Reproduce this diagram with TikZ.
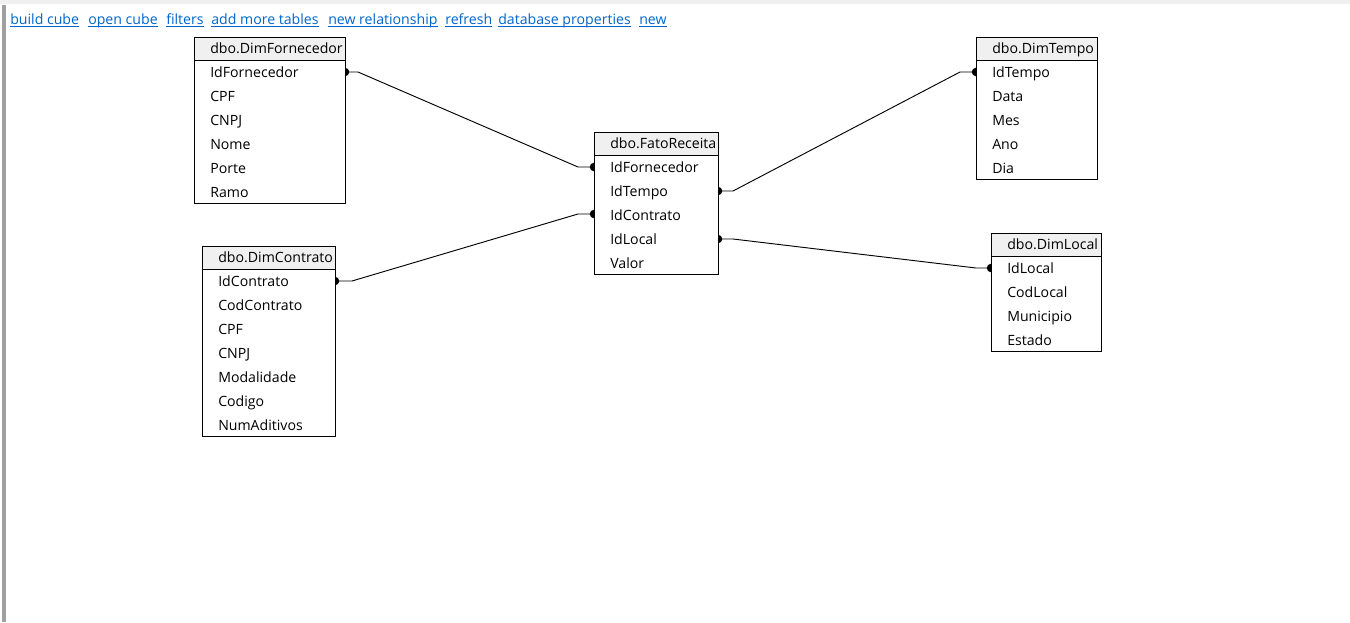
\documentclass[tikz,border=0pt]{standalone}
\usepackage{fontspec}
\setmainfont{Open Sans}
\usetikzlibrary{calc}
\definecolor{lnkblue}{RGB}{0,102,204}
\definecolor{hdrgray}{RGB}{240,240,240}
\definecolor{bargray}{RGB}{160,160,160}
\newcommand\dbtable[6]{%
  \node[tblbox,minimum width=#4*0.75pt,minimum height=#5*0.75pt] (#1) at (#2,#3) {};
  \fill[hdrgray] (#1.north west) rectangle ($(#1.north east)+(0,23)$);
  \draw[tblline] ($(#1.north west)+(0,23)$) -- ($(#1.north east)+(0,23)$);
  \begin{scope}
    \clip (#1.north west) rectangle (#1.south east);
    \node[rowtxt] (#1h) at ($(#1.north west)+(16,11.5)$) {#6};
  \end{scope}
  \draw[tblline] (#1.north west) rectangle (#1.south east);
}
\newcommand\ulk[1]{\underline{\smash{#1}}}
\begin{document}
\begin{tikzpicture}[x=0.75pt,y=-0.75pt,
  tblbox/.style={draw=none,fill=white,inner sep=0pt,outer sep=0pt,anchor=north west},
  tblline/.style={draw=black,line width=0.75pt},
  rowtxt/.style={anchor=west,inner sep=0pt,text height=9pt,text depth=1.25pt,font=\fontsize{10.6pt}{12pt}\selectfont,text=black},
  lnk/.style={anchor=west,inner sep=0pt,text height=9pt,text depth=1.25pt,font=\fontsize{10.6pt}{12pt}\selectfont,text=lnkblue},
  conn/.style={draw=black,line width=0.7pt},
  dot/.style={fill=black}
]
\useasboundingbox (0,0) rectangle (1350,622);
\fill[white] (0,0) rectangle (1350,622);
\fill[hdrgray] (0,0) rectangle (1350,4);
\fill[bargray] (2,5) rectangle (6,622);

% links
\node[lnk] (l1) at (10,19) {\ulk{build cube}};
\node[lnk] (l2) at (88,19) {\ulk{open cube}};
\node[lnk] (l3) at (166,19) {\ulk{filters}};
\node[lnk] (l4) at (211,19) {\ulk{add more tables}};
\node[lnk] (l5) at (328,19) {\ulk{new relationship}};
\node[lnk] (l6) at (445,19) {\ulk{refresh}};
\node[lnk] (l7) at (498,19) {\ulk{database properties}};
\node[lnk] (l8) at (639,19) {\ulk{new}};

% connector end points on the table edges
\coordinate (c1a) at (345,72);
\coordinate (c1b) at (594,167);
\coordinate (c2a) at (718,191);
\coordinate (c2b) at (976,72);
\coordinate (c3a) at (335,281);
\coordinate (c3b) at (594,214);
\coordinate (c4a) at (718,239);
\coordinate (c4b) at (991,268);

% connectors
\draw[conn] (c1a) -- ++(13,0) -- ($(c1b)+(-16,0)$) -- (c1b);
\draw[conn] (c2a) -- ++(15,0) -- ($(c2b)+(-16,0)$) -- (c2b);
\draw[conn] (c3a) -- ++(17,0) -- ($(c3b)+(-16,0)$) -- (c3b);
\draw[conn] (c4a) -- ++(15,0) -- ($(c4b)+(-15,0)$) -- (c4b);
\foreach \p in {c1a,c1b,c2a,c2b,c3a,c3b,c4a,c4b} \fill[dot] (\p) circle[radius=3.2pt];

% tables
\dbtable{fz}{194}{37}{151}{166}{dbo.DimFornecedor}
\node[rowtxt] (fz1) at (210,72) {IdFornecedor};
\node[rowtxt] (fz2) at (210,96) {CPF};
\node[rowtxt] (fz3) at (210,120) {CNPJ};
\node[rowtxt] (fz4) at (210,144) {Nome};
\node[rowtxt] (fz5) at (210,168) {Porte};
\node[rowtxt] (fz6) at (210,192) {Ramo};

\dbtable{rz}{594}{132}{124}{142}{dbo.FatoReceita}
\node[rowtxt] (rz1) at (610,167) {IdFornecedor};
\node[rowtxt] (rz2) at (610,191) {IdTempo};
\node[rowtxt] (rz3) at (610,215) {IdContrato};
\node[rowtxt] (rz4) at (610,239) {IdLocal};
\node[rowtxt] (rz5) at (610,263) {Valor};

\dbtable{tz}{976}{37}{121}{142}{dbo.DimTempo}
\node[rowtxt] (tz1) at (992,72) {IdTempo};
\node[rowtxt] (tz2) at (992,96) {Data};
\node[rowtxt] (tz3) at (992,120) {Mes};
\node[rowtxt] (tz4) at (992,144) {Ano};
\node[rowtxt] (tz5) at (992,168) {Dia};

\dbtable{lz}{991}{233}{110}{118}{dbo.DimLocal}
\node[rowtxt] (lz1) at (1007,268) {IdLocal};
\node[rowtxt] (lz2) at (1007,292) {CodLocal};
\node[rowtxt] (lz3) at (1007,316) {Municipio};
\node[rowtxt] (lz4) at (1007,340) {Estado};

\dbtable{cz}{202}{246}{133}{190}{dbo.DimContrato}
\node[rowtxt] (cz1) at (218,281) {IdContrato};
\node[rowtxt] (cz2) at (218,305) {CodContrato};
\node[rowtxt] (cz3) at (218,329) {CPF};
\node[rowtxt] (cz4) at (218,353) {CNPJ};
\node[rowtxt] (cz5) at (218,377) {Modalidade};
\node[rowtxt] (cz6) at (218,401) {Codigo};
\node[rowtxt] (cz7) at (218,425) {NumAditivos};
\end{tikzpicture}
\end{document}
